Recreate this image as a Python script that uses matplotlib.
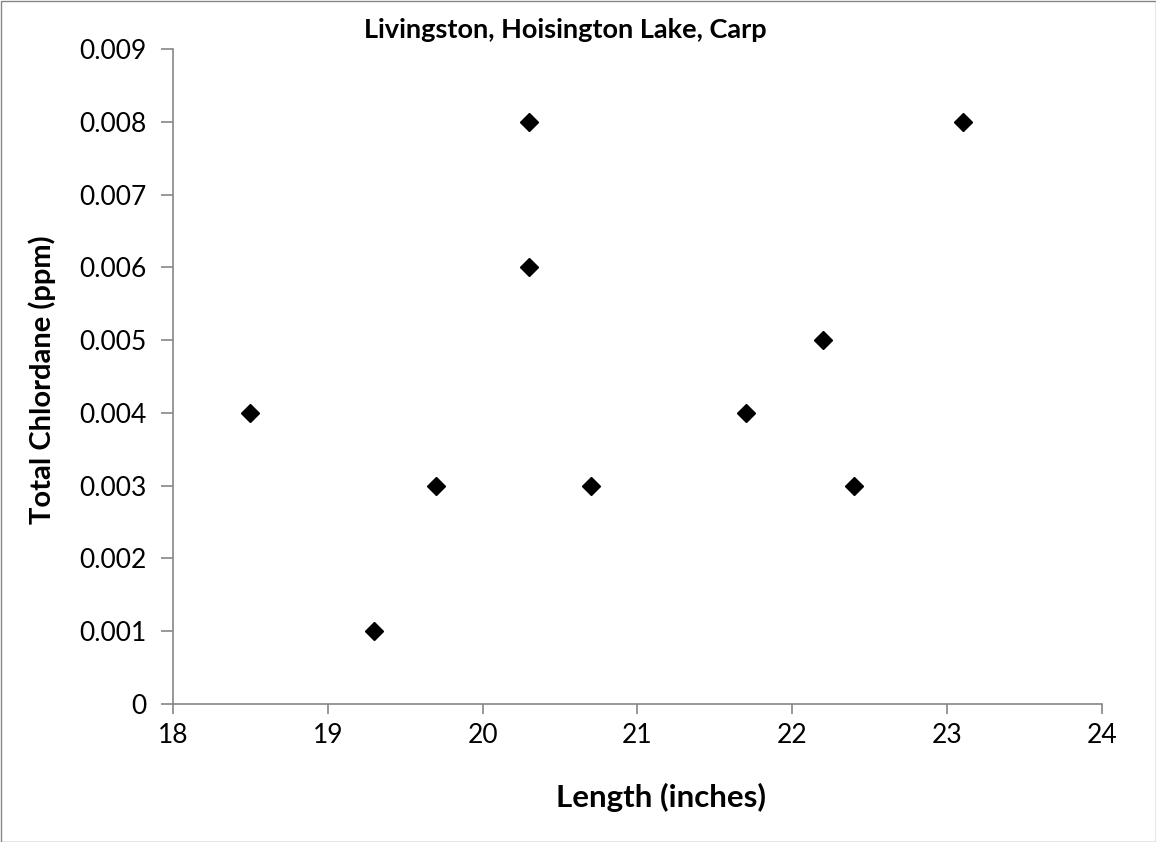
import matplotlib.pyplot as plt
from matplotlib.patches import Rectangle

plt.rcParams['font.family'] = ['Lato', 'DejaVu Sans']

length = [18.5, 19.3, 19.7, 20.3, 20.3, 20.7, 21.7, 22.2, 22.4, 23.1]
chlordane = [0.004, 0.001, 0.003, 0.008, 0.006, 0.003, 0.004, 0.005, 0.003, 0.008]
xticks = [18, 19, 20, 21, 22, 23, 24]
yticks = [0, 0.001, 0.002, 0.003, 0.004, 0.005, 0.006, 0.007, 0.008, 0.009]
ytick_labels = ['0', '0.001', '0.002', '0.003', '0.004', '0.005', '0.006', '0.007', '0.008', '0.009']

fig = plt.figure(figsize=(11.56, 8.42), dpi=100)
ax = fig.add_axes([173/1156, 1-704/842, (1102-173)/1156, (704-49)/842])

ax.plot(length, chlordane, linestyle='none', marker='D', markersize=9,
        color='black', clip_on=False)

ax.set_xlim(18, 24)
ax.set_ylim(0, 0.009)
ax.set_xticks(xticks)
ax.set_yticks(yticks)
ax.set_yticklabels(ytick_labels)

for side in ['top', 'right']:
    ax.spines[side].set_visible(False)
for side in ['left', 'bottom']:
    ax.spines[side].set_color('#868686')
    ax.spines[side].set_linewidth(1.2)
ax.tick_params(axis='both', colors='#868686', labelcolor='black', labelsize=19,
               width=1.2, direction='out')
ax.tick_params(axis='y', length=9, pad=10)
ax.tick_params(axis='x', length=7, pad=7)

fig.text(565/1156, 1-30/842, 'Livingston, Hoisington Lake, Carp',
         ha='center', va='center', fontsize=19.5, fontweight='bold')
fig.text(661/1156, 1-797/842, 'Length (inches)',
         ha='center', va='center', fontsize=22.5, fontweight='bold')
fig.text(42/1156, 1-380/842, 'Total Chlordane (ppm)', rotation=90,
         ha='center', va='center', fontsize=21, fontweight='bold')

# outer chart border
fig.patches.append(Rectangle((0.5/1156, 0.5/842), 1-1/1156, 1-1/842,
                             transform=fig.transFigure, fill=False,
                             edgecolor='#868686', linewidth=1))

fig.savefig('out.png', dpi=100)
